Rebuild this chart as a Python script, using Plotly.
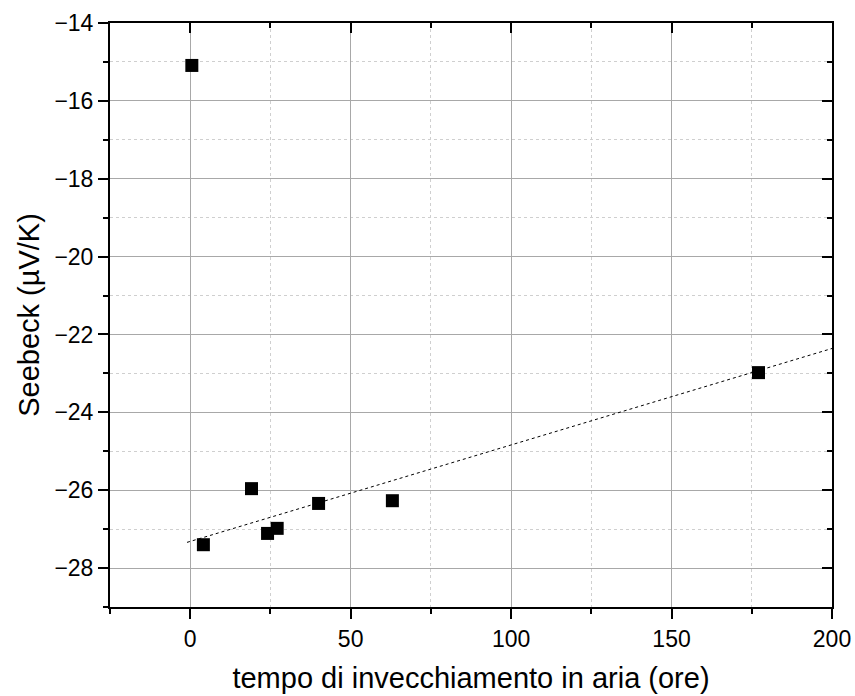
import plotly.graph_objects as go

# data
ore = [0.5, 4.1, 19.1, 24.1, 27.1, 40.0, 63.0, 177.1]
seebeck = [-15.09, -27.40, -25.96, -27.11, -26.98, -26.34, -26.27, -22.98]
fit_x = [-1.0, 200.0]
fit_y = [-27.34, -22.36]

x_range = [-25, 200]
y_range = [-29, -14]
x_ticks = [0, 50, 100, 150, 200]
y_ticks = [-28, -26, -24, -22, -20, -18, -16, -14]

font = "Liberation Sans, Arial, sans-serif"

fig = go.Figure()
fig.add_trace(go.Scatter(x=fit_x, y=fit_y, mode="lines",
                         line=dict(color="black", width=1, dash="dot"),
                         showlegend=False, hoverinfo="skip"))
fig.add_trace(go.Scatter(x=ore, y=seebeck, mode="markers",
                         marker=dict(symbol="square", size=13, color="black"),
                         showlegend=False))
fig.add_trace(go.Scatter(x=ore, y=seebeck, mode="markers", xaxis="x2", yaxis="y2",
                         marker=dict(opacity=0), showlegend=False, hoverinfo="skip"))

common = dict(showline=True, linecolor="black", linewidth=2, zeroline=False,
              tickcolor="black", tickwidth=2, ticklen=10, automargin=False)

fig.update_layout(
    width=855, height=696,
    margin=dict(l=110, r=23, t=23, b=89),
    paper_bgcolor="white", plot_bgcolor="white",
    font=dict(family=font, color="black"),
    xaxis=dict(range=x_range, tickvals=x_ticks, ticks="outside",
               showgrid=True, gridcolor="#a8a8a8", gridwidth=1,
               minor=dict(dtick=25, tick0=0, ticks="outside", ticklen=5, tickwidth=2,
                          tickcolor="black", showgrid=True, gridcolor="#cfcfcf",
                          griddash="3px,3px", gridwidth=1),
               tickfont=dict(size=23, family=font),
               title=dict(text="tempo di invecchiamento in aria (ore)",
                          font=dict(size=29, family=font), standoff=17),
               **common),
    yaxis=dict(range=y_range, tickvals=y_ticks, ticks="outside",
               showgrid=True, gridcolor="#a8a8a8", gridwidth=1,
               minor=dict(dtick=1, tick0=-14, ticks="outside", ticklen=5, tickwidth=2,
                          tickcolor="black", showgrid=True, gridcolor="#cfcfcf",
                          griddash="3px,3px", gridwidth=1),
               tickfont=dict(size=23, family=font),
               title=dict(text="Seebeck (\u00b5V/K)",
                          font=dict(size=29, family=font), standoff=6),
               **common),
    xaxis2=dict(range=x_range, tickvals=x_ticks, overlaying="x", side="top",
                anchor="y", ticks="inside", showticklabels=False, showgrid=False,
                minor=dict(dtick=25, tick0=0, ticks="inside", ticklen=5, tickwidth=2,
                           tickcolor="black", showgrid=False),
                **common),
    yaxis2=dict(range=y_range, tickvals=y_ticks, overlaying="y", side="right",
                anchor="x", ticks="inside", showticklabels=False, showgrid=False,
                minor=dict(dtick=1, tick0=-14, ticks="inside", ticklen=5, tickwidth=2,
                           tickcolor="black", showgrid=False),
                **common),
)

fig.write_html("out.html", config={"displayModeBar": False},
               post_script="document.body.style.margin='0';document.body.style.overflow='hidden';")
